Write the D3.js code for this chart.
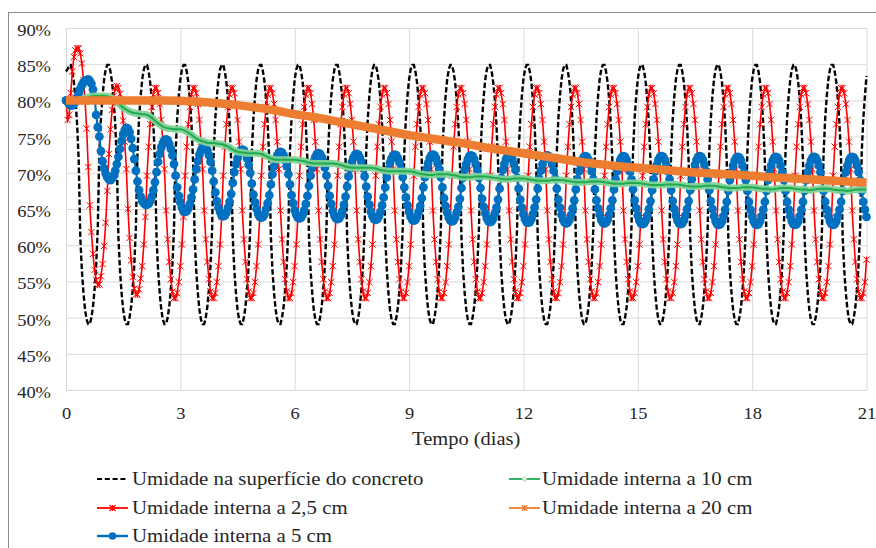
<!DOCTYPE html>
<html><head><meta charset="utf-8">
<script src="https://cdn.jsdelivr.net/npm/d3@7"></script>
<style>body{margin:0;background:#fff}svg{display:block}</style>
</head><body>
<svg id="c" width="876" height="548"></svg>
<script>
// ---------- DATA ----------
const yTicks = [40,45,50,55,60,65,70,75,80,85,90];
const yLabels = ["40%","45%","50%","55%","60%","65%","70%","75%","80%","85%","90%"];
const xTicks = [0,3,6,9,12,15,18,21];
const xLabels = ["0","3","6","9","12","15","18","21"];
const axisTitle = "Tempo (dias)";
const seriesNames = ["Umidade na superfície do concreto","Umidade interna a 2,5 cm","Umidade interna a 5 cm","Umidade interna a 10 cm","Umidade interna a 20 cm"];

// sampling step of each series (days)
const stepSuperficie = 1/24, step25 = 1/24, step5 = 1/24, step10 = 3/24, step20 = 12/24;

const superficie = [
84.0,84.3,84.9,84.9,84.0,82.5,80.1,76.7,71.7,61.1,56.5,53.4,51.1,49.7,49.1,49.1,50.0,51.5,53.9,57.3,62.3,72.9,77.5,80.6,
82.9,84.3,84.9,84.9,84.0,82.5,80.1,76.7,71.7,61.1,56.5,53.4,51.1,49.7,49.1,49.1,50.0,51.5,53.9,57.3,62.3,72.9,77.5,80.6,
82.9,84.3,84.9,84.9,84.0,82.5,80.1,76.7,71.7,61.1,56.5,53.4,51.1,49.7,49.1,49.1,50.0,51.5,53.9,57.3,62.3,72.9,77.5,80.6,
82.9,84.3,84.9,84.9,84.0,82.5,80.1,76.7,71.7,61.1,56.5,53.4,51.1,49.7,49.1,49.1,50.0,51.5,53.9,57.3,62.3,72.9,77.5,80.6,
82.9,84.3,84.9,84.9,84.0,82.5,80.1,76.7,71.7,61.1,56.5,53.4,51.1,49.7,49.1,49.1,50.0,51.5,53.9,57.3,62.3,72.9,77.5,80.6,
82.9,84.3,84.9,84.9,84.0,82.5,80.1,76.7,71.7,61.1,56.5,53.4,51.1,49.7,49.1,49.1,50.0,51.5,53.9,57.3,62.3,72.9,77.5,80.6,
82.9,84.3,84.9,84.9,84.0,82.5,80.1,76.7,71.7,61.1,56.5,53.4,51.1,49.7,49.1,49.1,50.0,51.5,53.9,57.3,62.3,72.9,77.5,80.6,
82.9,84.3,84.9,84.9,84.0,82.5,80.1,76.7,71.7,61.1,56.5,53.4,51.1,49.7,49.1,49.1,50.0,51.5,53.9,57.3,62.3,72.9,77.5,80.6,
82.9,84.3,84.9,84.9,84.0,82.5,80.1,76.7,71.7,61.1,56.5,53.4,51.1,49.7,49.1,49.1,50.0,51.5,53.9,57.3,62.3,72.9,77.5,80.6,
82.9,84.3,84.9,84.9,84.0,82.5,80.1,76.7,71.7,61.1,56.5,53.4,51.1,49.7,49.1,49.1,50.0,51.5,53.9,57.3,62.3,72.9,77.5,80.6,
82.9,84.3,84.9,84.9,84.0,82.5,80.1,76.7,71.7,61.1,56.5,53.4,51.1,49.7,49.1,49.1,50.0,51.5,53.9,57.3,62.3,72.9,77.5,80.6,
82.9,84.3,84.9,84.9,84.0,82.5,80.1,76.7,71.7,61.1,56.5,53.4,51.1,49.7,49.1,49.1,50.0,51.5,53.9,57.3,62.3,72.9,77.5,80.6,
82.9,84.3,84.9,84.9,84.0,82.5,80.1,76.7,71.7,61.1,56.5,53.4,51.1,49.7,49.1,49.1,50.0,51.5,53.9,57.3,62.3,72.9,77.5,80.6,
82.9,84.3,84.9,84.9,84.0,82.5,80.1,76.7,71.7,61.1,56.5,53.4,51.1,49.7,49.1,49.1,50.0,51.5,53.9,57.3,62.3,72.9,77.5,80.6,
82.9,84.3,84.9,84.9,84.0,82.5,80.1,76.7,71.7,61.1,56.5,53.4,51.1,49.7,49.1,49.1,50.0,51.5,53.9,57.3,62.3,72.9,77.5,80.6,
82.9,84.3,84.9,84.9,84.0,82.5,80.1,76.7,71.7,61.1,56.5,53.4,51.1,49.7,49.1,49.1,50.0,51.5,53.9,57.3,62.3,72.9,77.5,80.6,
82.9,84.3,84.9,84.9,84.0,82.5,80.1,76.7,71.7,61.1,56.5,53.4,51.1,49.7,49.1,49.1,50.0,51.5,53.9,57.3,62.3,72.9,77.5,80.6,
82.9,84.3,84.9,84.9,84.0,82.5,80.1,76.7,71.7,61.1,56.5,53.4,51.1,49.7,49.1,49.1,50.0,51.5,53.9,57.3,62.3,72.9,77.5,80.6,
82.9,84.3,84.9,84.9,84.0,82.5,80.1,76.7,71.7,61.1,56.5,53.4,51.1,49.7,49.1,49.1,50.0,51.5,53.9,57.3,62.3,72.9,77.5,80.6,
82.9,84.3,84.9,84.9,84.0,82.5,80.1,76.7,71.7,61.1,56.5,53.4,51.1,49.7,49.1,49.1,50.0,51.5,53.9,57.3,62.3,72.9,77.5,80.6,
82.9,84.3,84.9,84.9,84.0,82.5,80.1,76.7,71.7,61.1,56.5,53.4,51.1,49.7,49.1,49.1,50.0,51.5,53.9,57.3,62.3,72.9,77.5,80.6,
83.4];

const interna25 = [
80.0,77.3,78.0,81.0,84.0,86.0,86.9,87.2,87.2,86.5,85.1,82.8,79.9,76.1,70.8,65.5,61.8,58.8,56.6,55.2,54.5,54.6,55.7,57.4,
59.9,63.1,67.5,72.6,76.0,78.7,80.6,81.7,82.0,81.7,80.9,79.4,77.2,74.3,70.5,65.0,61.0,57.9,55.6,54.0,53.2,53.2,53.9,55.4,
57.1,60.1,63.9,69.6,73.6,76.7,79.1,80.8,81.7,81.7,81.0,79.5,77.3,74.3,70.5,64.8,60.8,57.7,55.3,53.6,52.7,52.7,53.4,54.9,
57.1,60.1,63.9,69.6,73.6,76.7,79.1,80.8,81.7,81.7,81.0,79.5,77.3,74.3,70.5,64.8,60.8,57.7,55.3,53.6,52.7,52.7,53.4,54.9,
57.1,60.1,63.9,69.6,73.6,76.7,79.1,80.8,81.7,81.7,81.0,79.5,77.3,74.3,70.5,64.8,60.8,57.7,55.3,53.6,52.7,52.7,53.4,54.9,
57.1,60.1,63.9,69.6,73.6,76.7,79.1,80.8,81.7,81.7,81.0,79.5,77.3,74.3,70.5,64.8,60.8,57.7,55.3,53.6,52.7,52.7,53.4,54.9,
57.1,60.1,63.9,69.6,73.6,76.7,79.1,80.8,81.7,81.7,81.0,79.5,77.3,74.3,70.5,64.8,60.8,57.7,55.3,53.6,52.7,52.7,53.4,54.9,
57.1,60.1,63.9,69.6,73.6,76.7,79.1,80.8,81.7,81.7,81.0,79.5,77.3,74.3,70.5,64.8,60.8,57.7,55.3,53.6,52.7,52.7,53.4,54.9,
57.1,60.1,63.9,69.6,73.6,76.7,79.1,80.8,81.7,81.7,81.0,79.5,77.3,74.3,70.5,64.8,60.8,57.7,55.3,53.6,52.7,52.7,53.4,54.9,
57.1,60.1,63.9,69.6,73.6,76.7,79.1,80.8,81.7,81.7,81.0,79.5,77.3,74.3,70.5,64.8,60.8,57.7,55.3,53.6,52.7,52.7,53.4,54.9,
57.1,60.1,63.9,69.6,73.6,76.7,79.1,80.8,81.7,81.7,81.0,79.5,77.3,74.3,70.5,64.8,60.8,57.7,55.3,53.6,52.7,52.7,53.4,54.9,
57.1,60.1,63.9,69.6,73.6,76.7,79.1,80.8,81.7,81.7,81.0,79.5,77.3,74.3,70.5,64.8,60.8,57.7,55.3,53.6,52.7,52.7,53.4,54.9,
57.1,60.1,63.9,69.6,73.6,76.7,79.1,80.8,81.7,81.7,81.0,79.5,77.3,74.3,70.5,64.8,60.8,57.7,55.3,53.6,52.7,52.7,53.4,54.9,
57.1,60.1,63.9,69.6,73.6,76.7,79.1,80.8,81.7,81.7,81.0,79.5,77.3,74.3,70.5,64.8,60.8,57.7,55.3,53.6,52.7,52.7,53.4,54.9,
57.1,60.1,63.9,69.6,73.6,76.7,79.1,80.8,81.7,81.7,81.0,79.5,77.3,74.3,70.5,64.8,60.8,57.7,55.3,53.6,52.7,52.7,53.4,54.9,
57.1,60.1,63.9,69.6,73.6,76.7,79.1,80.8,81.7,81.7,81.0,79.5,77.3,74.3,70.5,64.8,60.8,57.7,55.3,53.6,52.7,52.7,53.4,54.9,
57.1,60.1,63.9,69.6,73.6,76.7,79.1,80.8,81.7,81.7,81.0,79.5,77.3,74.3,70.5,64.8,60.8,57.7,55.3,53.6,52.7,52.7,53.4,54.9,
57.1,60.1,63.9,69.6,73.6,76.7,79.1,80.8,81.7,81.7,81.0,79.5,77.3,74.3,70.5,64.8,60.8,57.7,55.3,53.6,52.7,52.7,53.4,54.9,
57.1,60.1,63.9,69.6,73.6,76.7,79.1,80.8,81.7,81.7,81.0,79.5,77.3,74.3,70.5,64.8,60.8,57.7,55.3,53.6,52.7,52.7,53.4,54.9,
57.1,60.1,63.9,69.6,73.6,76.7,79.1,80.8,81.7,81.7,81.0,79.5,77.3,74.3,70.5,64.8,60.8,57.7,55.3,53.6,52.7,52.7,53.4,54.9,
57.1,60.1,63.9,69.6,73.6,76.7,79.1,80.8,81.7,81.7,81.0,79.5,77.3,74.3,70.5,64.8,60.8,57.7,55.3,53.6,52.7,52.7,53.4,54.9,
58.0];

const interna5 = [
80.0,79.8,79.5,79.3,79.3,79.5,79.9,80.4,81.0,81.6,82.1,82.5,82.7,82.8,82.9,82.7,82.3,81.5,80.4,78.0,76.3,75.0,73.0,71.6,
70.6,69.9,69.4,69.1,69.0,69.2,69.6,70.3,71.2,72.2,73.3,74.4,75.3,75.9,76.2,76.1,75.6,74.7,73.4,71.9,70.3,68.8,67.6,66.7,
66.1,65.8,65.6,65.6,65.7,66.1,66.7,67.6,68.7,70.1,71.5,72.6,73.5,74.1,74.5,74.6,74.5,74.0,73.3,72.4,71.2,69.6,68.0,66.8,
65.9,65.2,64.7,64.6,64.7,65.1,65.7,66.6,67.7,69.1,70.5,71.6,72.5,73.1,73.5,73.6,73.5,73.1,72.4,71.5,70.3,68.8,67.3,66.1,
65.2,64.6,64.1,64.0,64.1,64.5,65.2,66.0,67.1,68.6,70.1,71.2,72.0,72.7,73.1,73.2,73.1,72.7,72.0,71.1,70.0,68.5,67.0,65.9,
65.0,64.3,63.9,63.8,63.9,64.3,65.0,65.8,66.9,68.4,69.8,70.9,71.7,72.4,72.8,72.9,72.8,72.4,71.7,70.9,69.8,68.4,66.9,65.8,
64.8,64.2,63.8,63.7,63.8,64.2,64.8,65.7,66.8,68.2,69.6,70.7,71.6,72.2,72.6,72.7,72.6,72.2,71.6,70.7,69.6,68.2,66.8,65.7,
64.7,64.1,63.7,63.6,63.7,64.1,64.7,65.6,66.7,68.1,69.5,70.6,71.5,72.1,72.5,72.6,72.5,72.1,71.5,70.6,69.5,68.1,66.7,65.6,
64.6,64.0,63.6,63.5,63.6,64.0,64.6,65.5,66.6,68.0,69.4,70.5,71.4,72.0,72.4,72.5,72.4,72.0,71.4,70.5,69.4,68.0,66.6,65.5,
64.6,63.9,63.5,63.4,63.5,63.9,64.6,65.4,66.5,68.0,69.4,70.5,71.3,72.0,72.4,72.5,72.4,72.0,71.3,70.5,69.4,68.0,66.5,65.4,
64.5,63.8,63.4,63.3,63.4,63.8,64.5,65.3,66.4,67.9,69.3,70.4,71.2,71.9,72.3,72.4,72.3,71.9,71.2,70.4,69.3,67.9,66.4,65.3,
64.4,63.7,63.3,63.2,63.3,63.7,64.4,65.2,66.3,67.8,69.3,70.4,71.2,71.9,72.3,72.4,72.3,71.9,71.2,70.4,69.3,67.8,66.3,65.2,
64.3,63.6,63.2,63.1,63.2,63.6,64.3,65.2,66.3,67.8,69.2,70.3,71.2,71.9,72.3,72.4,72.3,71.9,71.2,70.3,69.2,67.8,66.3,65.2,
64.2,63.5,63.1,63.0,63.1,63.5,64.2,65.1,66.2,67.7,69.1,70.2,71.1,71.8,72.2,72.3,72.2,71.8,71.1,70.2,69.1,67.7,66.2,65.1,
64.2,63.5,63.1,63.0,63.1,63.5,64.2,65.1,66.2,67.7,69.1,70.2,71.1,71.8,72.2,72.3,72.2,71.8,71.1,70.2,69.1,67.7,66.2,65.1,
64.1,63.4,63.0,62.9,63.0,63.4,64.1,65.0,66.1,67.6,69.1,70.2,71.1,71.8,72.2,72.3,72.2,71.8,71.1,70.2,69.1,67.6,66.1,65.0,
64.1,63.4,63.0,62.9,63.0,63.4,64.1,65.0,66.1,67.6,69.1,70.2,71.1,71.8,72.2,72.3,72.2,71.8,71.1,70.2,69.1,67.6,66.1,65.0,
64.0,63.3,62.9,62.8,62.9,63.3,64.0,64.9,66.0,67.5,69.0,70.1,71.0,71.7,72.1,72.2,72.1,71.7,71.0,70.1,69.0,67.5,66.0,64.9,
64.0,63.3,62.9,62.8,62.9,63.3,64.0,64.9,66.0,67.5,69.0,70.1,71.0,71.7,72.1,72.2,72.1,71.7,71.0,70.1,69.0,67.5,66.0,64.9,
64.0,63.3,62.9,62.8,62.9,63.3,64.0,64.9,66.0,67.5,69.0,70.1,71.0,71.7,72.1,72.2,72.1,71.7,71.0,70.1,69.0,67.5,66.0,64.9,
64.0,63.3,62.9,62.8,62.9,63.3,64.0,64.9,66.0,67.5,69.0,70.1,71.0,71.7,72.1,72.2,72.1,71.7,71.0,70.1,69.0,67.5,66.0,64.9,
63.9];

const interna10 = [
80.0,80.0,80.0,80.1,80.3,80.5,80.6,80.6,
80.6,80.5,80.2,79.6,79.0,78.6,78.3,78.2,
78.1,78.0,77.6,77.0,76.5,76.2,76.1,76.0,
76.0,75.8,75.4,74.9,74.5,74.3,74.1,74.1,
74.0,73.9,73.6,73.2,72.9,72.8,72.7,72.7,
72.7,72.6,72.3,72.0,71.8,71.8,71.8,71.8,
71.8,71.7,71.6,71.4,71.3,71.3,71.3,71.3,
71.3,71.2,71.0,70.8,70.7,70.7,70.7,70.7,
70.7,70.6,70.4,70.3,70.2,70.2,70.2,70.2,
70.2,70.1,69.9,69.8,69.7,69.7,69.8,69.8,
69.8,69.7,69.6,69.4,69.4,69.4,69.5,69.5,
69.5,69.4,69.3,69.2,69.1,69.1,69.2,69.2,
69.2,69.1,69.0,68.9,68.9,68.9,69.0,69.0,
69.0,68.9,68.8,68.7,68.7,68.7,68.8,68.8,
68.8,68.7,68.6,68.5,68.5,68.5,68.6,68.6,
68.6,68.5,68.4,68.3,68.3,68.3,68.4,68.4,
68.4,68.3,68.2,68.1,68.1,68.1,68.2,68.2,
68.2,68.1,68.0,67.9,67.9,67.9,68.0,68.0,
68.0,67.9,67.8,67.8,67.7,67.8,67.9,67.9,
67.9,67.8,67.7,67.7,67.6,67.7,67.8,67.8,
67.8,67.7,67.6,67.6,67.5,67.6,67.7,67.7,
67.7];

const interna20 = [
80.0,80.0,80.0,80.0,80.0,80.0,79.95,79.8,79.6,79.35,79.0,78.6,78.1,77.7,77.2,76.7,76.2,75.7,75.2,74.8,74.4,
74.0,73.5,73.1,72.7,72.3,71.9,71.5,71.2,70.9,70.7,70.5,70.25,70.05,69.9,69.75,69.6,69.4,69.25,69.1,68.95,68.8,68.65];

// ---------- CHART ----------
const svg = d3.select('#c');
const FONT = 'Liberation Serif';
const SX = 1.12;
const TXT = '#262626';

const x = d3.scaleLinear().domain([0, 21]).range([66, 866.5]);
const y = d3.scaleLinear().domain([40, 90]).range([390, 28]);

svg.append('rect').attr('x', 8.5).attr('y', 12.5).attr('width', 900).attr('height', 600)
  .attr('fill', 'none').attr('stroke', '#8c8c8c').attr('stroke-width', 1);

// y axis + horizontal grid
const gy = svg.append('g').attr('transform', `translate(${x(0)},0)`)
  .call(d3.axisLeft(y).tickValues(yTicks).tickSize(-(x(21) - x(0))).tickFormat((d, i) => yLabels[i]));
gy.attr('font-family', FONT).attr('font-size', 16.5);
gy.select('.domain').remove();
gy.selectAll('line').attr('stroke', '#d9d9d9').attr('stroke-width', 1);
gy.selectAll('text').attr('x', -15 / SX).attr('dy', null).attr('y', 7.5)
  .attr('transform', `scale(${SX},1)`).attr('fill', TXT)
  .attr('font-family', FONT).attr('font-size', 16.5);

// x axis + vertical grid
const gx = svg.append('g').attr('transform', `translate(0,${y(40)})`)
  .call(d3.axisBottom(x).tickValues(xTicks).tickSize(-(y(40) - y(90))).tickFormat((d, i) => xLabels[i]));
gx.attr('font-family', FONT).attr('font-size', 16.5);
gx.select('.domain').remove();
gx.selectAll('line').attr('stroke', '#d9d9d9').attr('stroke-width', 1);
gx.selectAll('text').attr('dy', null).attr('y', 29).attr('transform', `scale(${SX},1)`)
  .attr('x', 0).attr('fill', TXT).attr('font-family', FONT).attr('font-size', 16.5);

// axis title
svg.append('text').attr('transform', `translate(${(x(0) + x(21)) / 2},444.5) scale(${SX},1)`)
  .attr('text-anchor', 'middle').attr('fill', TXT)
  .attr('font-family', FONT).attr('font-size', 18.3).text(axisTitle);

const toPts = (arr, step) => arr.map((v, i) => [i * step, v]);
const line = d3.line().x(d => x(d[0])).y(d => y(d[1]));
const smooth = d3.line().x(d => x(d[0])).y(d => y(d[1])).curve(d3.curveMonotoneX);

const starPath = s => `M${-s},${-s}L${s},${s}M${-s},${s}L${s},${-s}M0,${-s}L0,${s}`;

const plot = svg.append('g');

// surface (black dashed)
const pSup = toPts(superficie, stepSuperficie);
plot.append('path').attr('d', line(pSup)).attr('fill', 'none').attr('stroke', '#000')
  .attr('stroke-width', 2.4).attr('stroke-dasharray', '5.5,2.5');

// 2.5 cm (red with star markers)
const p25 = toPts(interna25, step25);
plot.append('path').attr('d', line(p25)).attr('fill', 'none').attr('stroke', '#ff0000').attr('stroke-width', 1.6);
plot.append('g').selectAll('path').data(p25).join('path')
  .attr('transform', d => `translate(${x(d[0])},${y(d[1])})`).attr('d', starPath(3.2))
  .attr('stroke', '#ff0000').attr('stroke-width', 1).attr('fill', 'none');

// 5 cm (blue with circles)
const p5 = toPts(interna5, step5);
plot.append('path').attr('d', line(p5)).attr('fill', 'none').attr('stroke', '#0070c0').attr('stroke-width', 2.2);
plot.append('g').selectAll('circle').data(p5).join('circle')
  .attr('cx', d => x(d[0])).attr('cy', d => y(d[1])).attr('r', 4.4).attr('fill', '#0070c0');

// 10 cm (green band)
const p10 = toPts(interna10, step10);
plot.append('path').attr('d', smooth(p10)).attr('fill', 'none').attr('stroke', '#7fd396')
  .attr('stroke-width', 7).attr('stroke-opacity', 0.95);
plot.append('path').attr('d', smooth(p10)).attr('fill', 'none').attr('stroke', '#1faa52').attr('stroke-width', 2);

// 20 cm (orange band)
const p20 = toPts(interna20, step20);
plot.append('path').attr('d', smooth(p20)).attr('fill', 'none').attr('stroke', '#ed7d31')
  .attr('stroke-width', 8.5).attr('stroke-linecap', 'butt');

// ---------- LEGEND ----------
const legendPos = [
  {sx: 97, tx: 132, ly: 479, by: 485},
  {sx: 97, tx: 132, ly: 508, by: 513.5},
  {sx: 97, tx: 132, ly: 536, by: 542},
  {sx: 509, tx: 542, ly: 479, by: 485},
  {sx: 509, tx: 542, ly: 508, by: 513.5}
];
const lg = svg.append('g');
seriesNames.forEach((name, i) => {
  const p = legendPos[i];
  const g = lg.append('g');
  const x1 = p.sx, x2 = p.sx + 31, xm = (x1 + x2) / 2;
  if (i === 0) {
    g.append('line').attr('x1', x1).attr('x2', x2).attr('y1', p.ly).attr('y2', p.ly)
      .attr('stroke', '#000').attr('stroke-width', 2).attr('stroke-dasharray', '5,2.8');
  } else if (i === 1) {
    g.append('line').attr('x1', x1).attr('x2', x2).attr('y1', p.ly).attr('y2', p.ly).attr('stroke', '#ff0000').attr('stroke-width', 1.8);
    g.append('path').attr('transform', `translate(${xm},${p.ly})`).attr('d', starPath(3)).attr('stroke', '#ff0000').attr('stroke-width', 1.2);
  } else if (i === 2) {
    g.append('line').attr('x1', x1).attr('x2', x2).attr('y1', p.ly).attr('y2', p.ly).attr('stroke', '#0070c0').attr('stroke-width', 2.5);
    g.append('circle').attr('cx', xm).attr('cy', p.ly).attr('r', 3.8).attr('fill', '#0070c0');
  } else if (i === 3) {
    g.append('line').attr('x1', x1).attr('x2', x2).attr('y1', p.ly).attr('y2', p.ly).attr('stroke', '#1faa52').attr('stroke-width', 1.8);
    g.append('path').attr('transform', `translate(${xm},${p.ly})`).attr('d', 'M0,-2.6L2.6,0L0,2.6L-2.6,0Z')
      .attr('fill', '#fff').attr('stroke', '#86d49c').attr('stroke-width', 1);
  } else {
    g.append('line').attr('x1', x1).attr('x2', x2).attr('y1', p.ly).attr('y2', p.ly).attr('stroke', '#ed7d31').attr('stroke-width', 1.8);
    g.append('path').attr('transform', `translate(${xm},${p.ly})`).attr('d', starPath(2.8)).attr('stroke', '#ed7d31').attr('stroke-width', 1.2);
  }
  g.append('text').attr('transform', `translate(${p.tx},${p.by}) scale(${SX},1)`)
    .attr('fill', TXT).attr('font-family', FONT).attr('font-size', 18.6).text(name);
});
</script>
</body></html>
